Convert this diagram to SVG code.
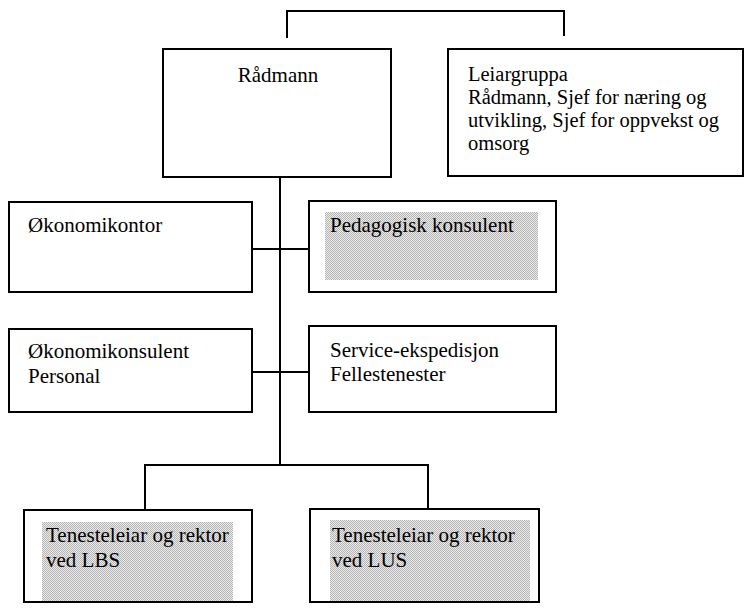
<svg xmlns="http://www.w3.org/2000/svg" width="745" height="612" viewBox="0 0 745 612">
<style>
.box{fill:#fff;stroke:#000;stroke-width:2}
.shade{fill:url(#stipple)}
.lbl{font-family:"Liberation Serif","Times New Roman",serif;font-size:21px;fill:#000}
.tight{font-size:20.5px}
.conn{fill:none;stroke:#000;stroke-width:2}
</style>
<defs>
<pattern id="stipple" width="2" height="2" patternUnits="userSpaceOnUse">
<rect width="2" height="2" fill="#ececec"/>
<rect x="0" y="0" width="1" height="1" fill="#b4b4b4"/>
<rect x="1" y="1" width="1" height="1" fill="#b4b4b4"/>
</pattern>
</defs>
<rect width="745" height="612" fill="#fff"/>
<g id="connectors">
<polyline class="conn" points="287,38 287,11 564,11 564,36"/>
<line class="conn" x1="280" y1="177" x2="280" y2="465"/>
<line class="conn" x1="252" y1="249" x2="309" y2="249"/>
<line class="conn" x1="252" y1="372" x2="309" y2="372"/>
<polyline class="conn" points="145,510 145,465 428,465 428,510"/>
</g>
<g id="radmann">
<rect class="box" x="163" y="49" width="228" height="128"/>
<text class="lbl" x="278" y="82" text-anchor="middle">Rådmann</text>
</g>
<g id="leiargruppa">
<rect class="box" x="448" y="49" width="295" height="127"/>
<text class="lbl tight" x="468" y="81">Leiargruppa</text>
<text class="lbl tight" x="468" y="104">Rådmann, Sjef for næring og</text>
<text class="lbl tight" x="468" y="127">utvikling, Sjef for oppvekst og</text>
<text class="lbl tight" x="468" y="150">omsorg</text>
</g>
<g id="okonomikontor">
<rect class="box" x="9" y="202" width="243" height="90"/>
<text class="lbl" x="28" y="232">Økonomikontor</text>
</g>
<g id="pedagogisk">
<rect class="box" x="309" y="201" width="247" height="91"/>
<rect class="shade" x="325" y="212" width="213" height="68"/>
<text class="lbl" x="330" y="232">Pedagogisk konsulent</text>
</g>
<g id="okonomikonsulent">
<rect class="box" x="9" y="329" width="243" height="83"/>
<text class="lbl" x="28" y="358">Økonomikonsulent</text>
<text class="lbl" x="28" y="383">Personal</text>
</g>
<g id="service">
<rect class="box" x="309" y="326" width="247" height="86"/>
<text class="lbl" x="330" y="357">Service-ekspedisjon</text>
<text class="lbl" x="330" y="381">Fellestenester</text>
</g>
<g id="lbs">
<rect class="box" x="24" y="510" width="228" height="92"/>
<rect class="shade" x="42" y="522" width="191" height="79"/>
<text class="lbl" x="46" y="542">Tenesteleiar og rektor</text>
<text class="lbl" x="46" y="567">ved LBS</text>
</g>
<g id="lus">
<rect class="box" x="310" y="509" width="229" height="93"/>
<rect class="shade" x="330" y="520" width="200" height="81"/>
<text class="lbl" x="332" y="542">Tenesteleiar og rektor</text>
<text class="lbl" x="332" y="567">ved LUS</text>
</g>
</svg>
